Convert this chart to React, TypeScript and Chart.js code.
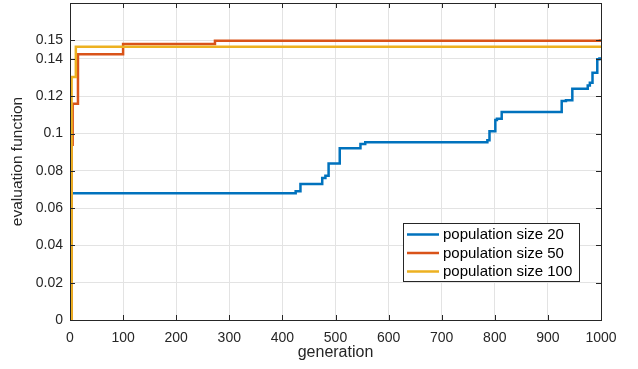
import React, { useEffect, useRef } from "react";
import { Chart, registerables } from "chart.js";

Chart.register(...registerables);

const seriesLabels = ["population size 20", "population size 50", "population size 100"];
const seriesColors = ["#0072BD", "#D95319", "#EDB120"];

const pop20Gen = [0, 2, 425, 434, 475, 481, 487, 508, 547, 556, 786, 790, 801, 804, 813, 926, 934, 946, 975, 979, 984, 993, 997, 1000];
const pop20Val = [0, 0.068, 0.069, 0.073, 0.0762, 0.0774, 0.0839, 0.0921, 0.0944, 0.0953, 0.0964, 0.1012, 0.1072, 0.1079, 0.1115, 0.1174, 0.1179, 0.124, 0.1258, 0.1272, 0.1326, 0.1398, 0.1402, 0.1402];

const pop50Gen = [0, 3, 5, 15, 100, 273, 998, 1000];
const pop50Val = [0, 0.094, 0.116, 0.1425, 0.148, 0.1497, 0.1499, 0.1499];

const pop100Gen = [0, 3, 11, 1000];
const pop100Val = [0, 0.1303, 0.1466, 0.1466];

const yTickValues = [0, 0.02, 0.04, 0.06, 0.08, 0.1, 0.12, 0.14, 0.15];
const xTickValues = [0, 100, 200, 300, 400, 500, 600, 700, 800, 900, 1000];

const AXIS = "#262626";
const GRID = "#e3e3e3";
const FONT = "'Liberation Sans', Arial, sans-serif";

const toPoints = (g: number[], v: number[]) => g.map((x, i) => ({ x, y: v[i] }));

const framePlugin = {
  id: "frame",
  afterDatasetsDraw(chart: any) {
    const { ctx, chartArea } = chart;
    const { left, right, top, bottom } = chartArea;
    const xs = chart.scales.x;
    const ys = chart.scales.y;
    ctx.save();
    ctx.strokeStyle = AXIS;
    ctx.lineWidth = 1;
    const tl = 5;
    ctx.beginPath();
    for (const v of xTickValues) {
      const px = Math.round(xs.getPixelForValue(v)) + 0.5;
      ctx.moveTo(px, bottom);
      ctx.lineTo(px, bottom - tl);
      ctx.moveTo(px, top);
      ctx.lineTo(px, top + tl);
    }
    for (const v of yTickValues) {
      const py = Math.round(ys.getPixelForValue(v)) + 0.5;
      ctx.moveTo(left, py);
      ctx.lineTo(left + tl, py);
      ctx.moveTo(right, py);
      ctx.lineTo(right - tl, py);
    }
    ctx.stroke();
    ctx.strokeRect(Math.round(left) + 0.5, Math.round(top) + 0.5, Math.round(right - left), Math.round(bottom - top));

    // legend
    const bx = 403.5, by = 223.5, bw = 176, bh = 58;
    ctx.fillStyle = "#ffffff";
    ctx.fillRect(bx, by, bw, bh);
    ctx.strokeStyle = AXIS;
    ctx.strokeRect(bx, by, bw, bh);
    const rows = [234.5, 253, 271.5];
    ctx.font = `15px ${FONT}`;
    ctx.textBaseline = "middle";
    ctx.textAlign = "left";
    chart.data.datasets.forEach((ds: any, i: number) => {
      ctx.strokeStyle = ds.borderColor;
      ctx.lineWidth = 2.5;
      ctx.beginPath();
      ctx.moveTo(407, rows[i]);
      ctx.lineTo(439, rows[i]);
      ctx.stroke();
      ctx.fillStyle = "#000000";
      ctx.fillText(ds.label, 443, rows[i] + 0.5);
    });
    ctx.restore();
  },
};

export default function App() {
  const ref = useRef<HTMLCanvasElement | null>(null);
  useEffect(() => {
    if (!ref.current) return;
    const series = [
      toPoints(pop20Gen, pop20Val),
      toPoints(pop50Gen, pop50Val),
      toPoints(pop100Gen, pop100Val),
    ];
    const chart = new Chart(ref.current, {
      type: "line",
      data: {
        datasets: series.map((d, i) => ({
          label: seriesLabels[i],
          data: d,
          borderColor: seriesColors[i],
          backgroundColor: seriesColors[i],
          borderWidth: 2.5,
          pointRadius: 0,
          stepped: true,
          tension: 0,
          order: 3 - i,
        })),
      },
      options: {
        responsive: false,
        animation: false,
        layout: { padding: { top: 3, right: 37, left: 0, bottom: 0 } },
        plugins: { legend: { display: false }, tooltip: { enabled: false } },
        scales: {
          x: {
            type: "linear",
            min: 0,
            max: 1000,
            afterBuildTicks: (s: any) => {
              s.ticks = xTickValues.map((value) => ({ value }));
            },
            afterFit: (s: any) => {
              s.height = 49;
              s.paddingLeft = 0;
              s.paddingRight = 0;
            },
            grid: { color: GRID, drawTicks: false },
            border: { display: false },
            ticks: {
              padding: 10,
              color: AXIS,
              font: { family: FONT, size: 14 },
              maxRotation: 0,
              autoSkip: false,
              callback: (v: any) => String(Number(v)),
            },
            title: {
              display: true,
              text: "generation",
              color: AXIS,
              font: { family: FONT, size: 16 },
              padding: { top: 0, bottom: 7 },
            },
          },
          y: {
            type: "linear",
            min: 0,
            max: 0.17,
            afterBuildTicks: (s: any) => {
              s.ticks = yTickValues.map((value) => ({ value }));
            },
            afterFit: (s: any) => {
              s.width = 70;
              s.paddingTop = 0;
              s.paddingBottom = 0;
            },
            grid: { color: GRID, drawTicks: false },
            border: { display: false },
            ticks: {
              padding: 7,
              color: AXIS,
              font: { family: FONT, size: 14 },
              autoSkip: false,
              callback: (v: any) => String(Number(v)),
            },
            title: {
              display: true,
              text: "evaluation function",
              color: AXIS,
              font: { family: FONT, size: 15.5 },
              padding: { top: 8, bottom: 0 },
            },
          },
        },
      },
      plugins: [framePlugin],
    });
    return () => chart.destroy();
  }, []);
  return (
    <div style={{ position: "absolute", left: 0, top: 0, width: 638, height: 369, background: "#fff" }}>
      <canvas ref={ref} width={638} height={369} />
    </div>
  );
}
